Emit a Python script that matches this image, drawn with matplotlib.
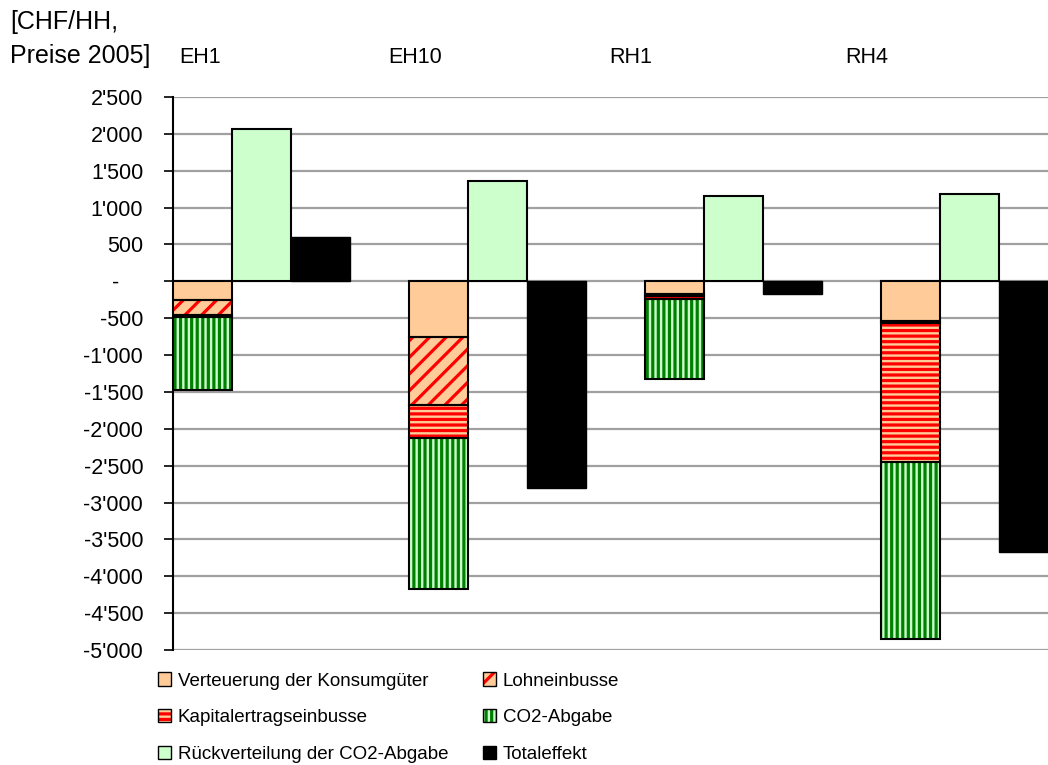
import numpy as np
import matplotlib
matplotlib.use("Agg")
import matplotlib.pyplot as plt
from matplotlib.patches import Patch

plt.rcParams['font.family'] = ['Liberation Sans', 'DejaVu Sans']
plt.rcParams['hatch.linewidth'] = 2.3

# Daten (CHF pro Haushalt, Preise 2005)
kategorien = ["EH1", "EH10", "RH1", "RH4"]
verteuerung = [-250, -755, -170, -535]
lohn = [-200, -920, -30, -30]
kapital = [-40, -450, -40, -1880]
co2 = [-990, -2045, -1090, -2405]
rueckverteilung = [2065, 1360, 1160, 1185]
total = [600, -2800, -170, -3670]

yticks = [2500, 2000, 1500, 1000, 500, 0, -500, -1000, -1500, -2000,
          -2500, -3000, -3500, -4000, -4500, -5000]
ytick_labels = ["2'500", "2'000", "1'500", "1'000", "500", "-    ", "-500",
                "-1'000", "-1'500", "-2'000", "-2'500", "-3'000", "-3'500",
                "-4'000", "-4'500", "-5'000"]

ORANGE = "#FFCC99"
HELLGRUEN = "#CCFFCC"
ROT = "#FF0000"
GRUEN = "#008000"

fig = plt.figure(figsize=(10.48, 7.65), dpi=100)
ax = fig.add_axes([0.1651, 0.1503, 0.9008, 0.7229])

x = np.arange(len(kategorien)) * 4
w = 1.0

def stapel(xpos, werte, unten, farbe, schraffur=None, hfarbe=None):
    # Fuellung + Schraffur, danach schwarzer Rahmen
    if schraffur:
        ax.bar(xpos, werte, w, bottom=unten, color=farbe, hatch=schraffur,
               edgecolor=hfarbe, linewidth=0, align="edge", zorder=3)
    else:
        ax.bar(xpos, werte, w, bottom=unten, color=farbe, linewidth=0,
               align="edge", zorder=3)
    ax.bar(xpos, werte, w, bottom=unten, fill=False, edgecolor="black",
           linewidth=1.5, align="edge", zorder=4)

b = np.zeros(len(kategorien))
stapel(x, verteuerung, b, ORANGE)
b = b + np.array(verteuerung)
stapel(x, lohn, b, ORANGE, "//", ROT)
b = b + np.array(lohn)
stapel(x, kapital, b, ORANGE, "---", ROT)
b = b + np.array(kapital)
stapel(x, co2, b, HELLGRUEN, "|||", GRUEN)

stapel(x + 1, rueckverteilung, np.zeros(len(kategorien)), HELLGRUEN)
ax.bar(x + 2, total, w, color="black", edgecolor="black", linewidth=1.0,
       align="edge", zorder=3)

ax.set_xlim(0, 16)
ax.set_ylim(-5000, 2500)
ax.set_yticks(yticks)
ax.set_yticklabels(ytick_labels, fontsize=15.5)
ax.tick_params(axis="y", direction="out", length=6.5, width=1.2, pad=15)
ax.set_xticks([])
for s in ["top", "right", "bottom"]:
    ax.spines[s].set_visible(False)
ax.spines["left"].set_linewidth(1.5)
ax.yaxis.grid(True, color="#A0A0A0", linewidth=1.6, zorder=0)
ax.set_axisbelow(True)

# Kategorienbeschriftung oben
label_x = [0.45, 4.1, 7.75, 11.75]
for lx, k in zip(label_x, kategorien):
    ax.text(lx, 1.072, k, transform=ax.get_xaxis_transform(), ha="center",
            va="center", fontsize=15.5)

fig.text(0.010, 0.987, "[CHF/HH,\nPreise 2005]", ha="left", va="top",
         fontsize=18, linespacing=1.55)

def rahmen(p):
    return (p, Patch(fill=False, edgecolor="black", linewidth=1.0))

handles = [
    Patch(facecolor=ORANGE, edgecolor="black"),
    rahmen(Patch(facecolor=ORANGE, edgecolor=ROT, hatch="---", linewidth=0)),
    Patch(facecolor=HELLGRUEN, edgecolor="black"),
    rahmen(Patch(facecolor=ORANGE, edgecolor=ROT, hatch="//", linewidth=0)),
    rahmen(Patch(facecolor=HELLGRUEN, edgecolor=GRUEN, hatch="|||", linewidth=0)),
    Patch(facecolor="black", edgecolor="black"),
]
labels = ["Verteuerung der Konsumgüter", "Kapitalertragseinbusse",
          "Rückverteilung der CO2-Abgabe", "Lohneinbusse", "CO2-Abgabe",
          "Totaleffekt"]
fig.legend(handles, labels, loc="upper left", bbox_to_anchor=(0.151, 0.121),
           ncol=2, frameon=False, fontsize=13.5, handlelength=0.7,
           handleheight=0.7, handletextpad=0.35, labelspacing=1.05,
           columnspacing=1.85, borderpad=0, borderaxespad=0)

fig.savefig("out.png", dpi=100)
